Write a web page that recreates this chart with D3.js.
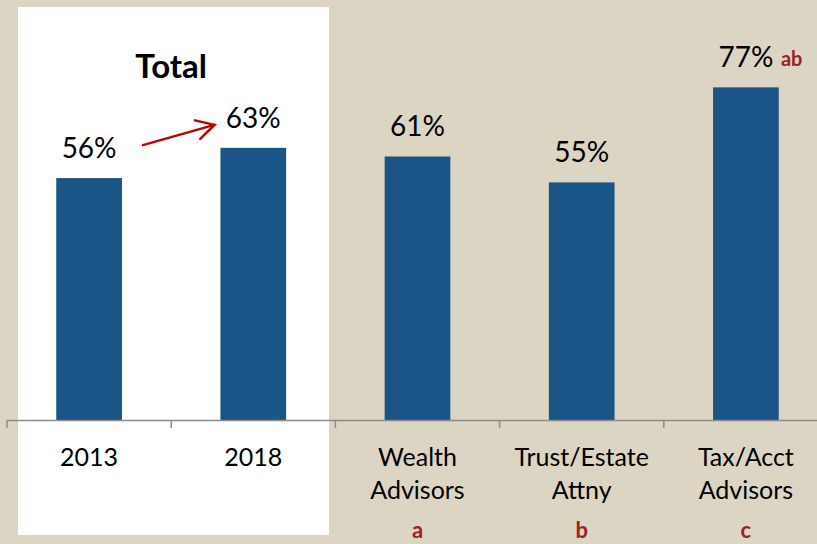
<!DOCTYPE html>
<html>
<head>
<meta charset="utf-8">
<script src="https://cdn.jsdelivr.net/npm/d3@7"></script>
<style>
  html, body { margin: 0; padding: 0; background: #DDD5C3; }
  svg { display: block; }
  text { font-family: Lato, "Open Sans", sans-serif; }
</style>
</head>
<body>
<svg id="chart" width="817" height="544"></svg>
<script>
// Chart data
const categories = ["2013", "2018", "Wealth\nAdvisors", "Trust/Estate\nAttny", "Tax/Acct\nAdvisors"];
const values = [56, 63, 61, 55, 77];
const groupLetters = ["", "", "a", "b", "c"];
const sigMarks = ["", "", "", "", "ab"];
const panelTitle = "Total";

const W = 817, H = 544;
const baseY = 420;
const svg = d3.select("#chart");

svg.append("rect").attr("width", W).attr("height", H).attr("fill", "#DDD5C3");

const x = d3.scaleBand().domain(categories).range([7, 828]).paddingInner(0.6).paddingOuter(0.3);
const y = d3.scaleLinear().domain([0, 100]).range([baseY, -12]);

// White panel behind the "Total" group (2013 and 2018)
svg.append("rect")
  .attr("x", 18).attr("y", 7)
  .attr("width", 311).attr("height", 528)
  .attr("fill", "#ffffff");

// Bars
svg.selectAll("rect.bar")
  .data(categories)
  .join("rect")
  .attr("class", "bar")
  .attr("x", d => x(d))
  .attr("y", (d, i) => y(values[i]))
  .attr("width", x.bandwidth())
  .attr("height", (d, i) => y(0) - y(values[i]))
  .attr("fill", "#1A5587");

// Axis line with tick marks between categories
const step = x.step();
const axisG = svg.append("g").attr("transform", `translate(0,${baseY})`);
axisG.append("line")
  .attr("x1", 7).attr("x2", W).attr("y1", 0.5).attr("y2", 0.5)
  .attr("stroke", "#8C8C8C").attr("stroke-width", 1.5);
const tickXs = d3.range(categories.length + 1).map(i => x(categories[0]) - step * 0.3 + i * step);
axisG.selectAll("line.tick")
  .data(tickXs)
  .join("line")
  .attr("class", "tick")
  .attr("x1", d => d).attr("x2", d => d)
  .attr("y1", 0).attr("y2", 8)
  .attr("stroke", "#8C8C8C").attr("stroke-width", 1.5);

// Category labels (multi-line)
const labelG = svg.selectAll("text.cat")
  .data(categories)
  .join("text")
  .attr("class", "cat")
  .attr("text-anchor", "middle")
  .attr("font-size", 25)
  .attr("fill", "#000");
labelG.each(function(d) {
  const t = d3.select(this);
  const cx = x(d) + x.bandwidth() / 2;
  d.split("\n").forEach((line, j) => {
    t.append("tspan").attr("x", cx).attr("y", 466 + j * 33).text(line);
  });
});

// Significance group letters below labels
svg.selectAll("text.grp")
  .data(categories)
  .join("text")
  .attr("class", "grp")
  .attr("x", d => x(d) + x.bandwidth() / 2)
  .attr("y", 538)
  .attr("text-anchor", "middle")
  .attr("font-size", 22)
  .attr("font-weight", "bold")
  .attr("fill", "#9B2226")
  .text((d, i) => groupLetters[i]);

// Value labels above bars
svg.selectAll("text.val")
  .data(categories)
  .join("text")
  .attr("class", "val")
  .attr("x", d => x(d) + x.bandwidth() / 2)
  .attr("y", (d, i) => y(values[i]) - 20)
  .attr("text-anchor", "middle")
  .attr("font-size", 28)
  .attr("fill", "#000")
  .text((d, i) => values[i] + "%");

// Significance marks next to value labels
svg.selectAll("text.sig")
  .data(categories)
  .join("text")
  .attr("class", "sig")
  .attr("x", d => x(d) + x.bandwidth() / 2 + 35)
  .attr("y", (d, i) => y(values[i]) - 21)
  .attr("font-size", 20)
  .attr("font-weight", "bold")
  .attr("fill", "#9B2226")
  .text((d, i) => sigMarks[i]);

// Panel title
svg.append("text")
  .attr("x", (x(categories[0]) + x(categories[1]) + x.bandwidth()) / 2)
  .attr("y", 78)
  .attr("text-anchor", "middle")
  .attr("font-size", 33)
  .attr("font-weight", "bold")
  .attr("fill", "#000")
  .text(panelTitle);

// Trend arrow from 2013 to 2018
const ax1 = x(categories[0]) + x.bandwidth() + 21, ay1 = y(values[0]) - 33;
const ax2 = x(categories[1]) - 6, ay2 = y(values[1]) - 23;
const ang = Math.atan2(ay2 - ay1, ax2 - ax1);
const hl = 20, ha = 0.5;
svg.append("line")
  .attr("x1", ax1).attr("y1", ay1).attr("x2", ax2).attr("y2", ay2)
  .attr("stroke", "#C00000").attr("stroke-width", 2.5).attr("stroke-linecap", "round");
svg.append("path")
  .attr("d", `M${ax2 - hl * Math.cos(ang - ha)},${ay2 - hl * Math.sin(ang - ha)}L${ax2},${ay2}L${ax2 - hl * Math.cos(ang + ha)},${ay2 - hl * Math.sin(ang + ha)}`)
  .attr("fill", "none").attr("stroke", "#C00000").attr("stroke-width", 2.5)
  .attr("stroke-linecap", "round").attr("stroke-linejoin", "miter");
</script>
</body>
</html>
